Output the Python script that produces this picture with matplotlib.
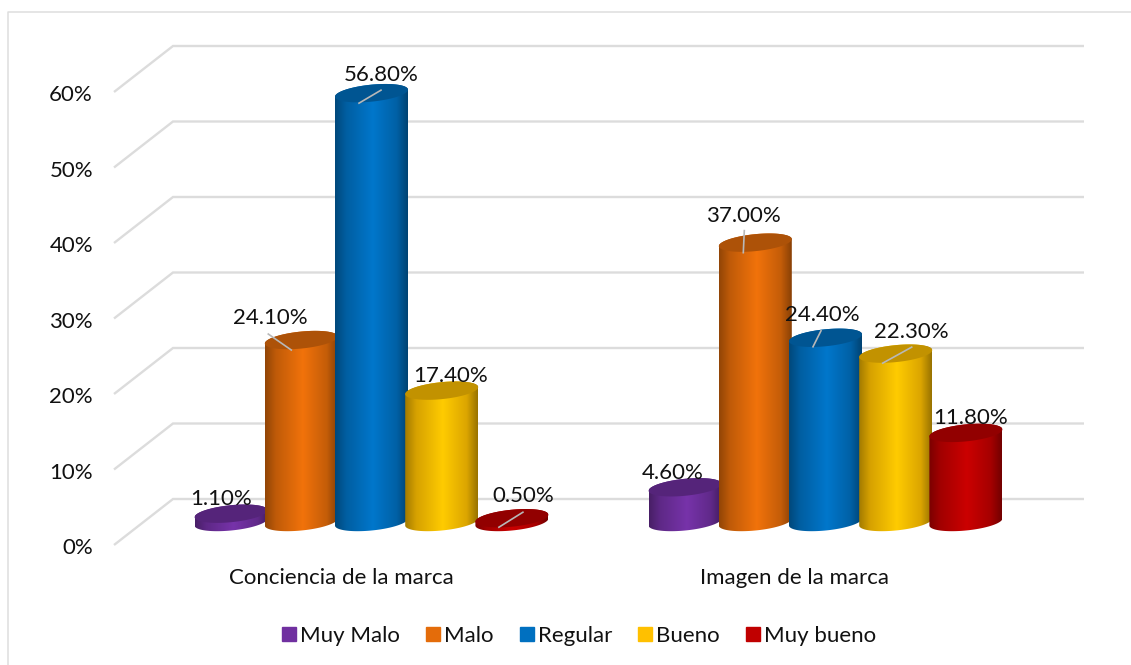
import numpy as np
import matplotlib
matplotlib.use('Agg')
import matplotlib.pyplot as plt
from matplotlib.colors import LinearSegmentedColormap, to_rgb
from matplotlib.patches import Patch, Polygon

plt.rcParams['font.family'] = ['Lato', 'DejaVu Sans']

categories = ['Conciencia de la marca', 'Imagen de la marca']
series = ['Muy Malo', 'Malo', 'Regular', 'Bueno', 'Muy bueno']
colors = ['#7030A0', '#E46C0A', '#0070C0', '#FFC000', '#C00000']
muy_malo = [1.1, 4.6]
malo = [24.1, 37.0]
regular = [56.8, 24.4]
bueno = [17.4, 22.3]
muy_bueno = [0.5, 11.8]
yticks = [0, 10, 20, 30, 40, 50, 60]

# pixels per unit on each axis, the figure is 1131x665
PX_X = 454.0
PX_Y = 7.55
X0 = 371.5
Y0 = 522.0
DEPTH = 23.0 / PX_Y     # front and back wall offset from the bar plane
PITCH = 70.2 / PX_X
WIDTH = 73.0 / PX_X
RY = 8.5 / PX_Y
TILT = 3.5 / PX_Y
FS = 16


def xu(px):
    return (px - X0) / PX_X


def yu(px):
    return (Y0 - px) / PX_Y


def shade(col, f):
    return tuple(min(c * f, 1.0) for c in to_rgb(col))


def ellipse(cx, v, n=80):
    t = np.linspace(0, 2 * np.pi, n)
    return cx + WIDTH / 2 * np.cos(t), v + RY * np.sin(t) + TILT * np.cos(t)


def cylinder(cx, v, col, z):
    t = np.linspace(0, np.pi, 60)
    top_x = cx + WIDTH / 2 * np.cos(t)
    top_y = v + RY * np.sin(t) + TILT * np.cos(t)
    bot_x = cx + WIDTH / 2 * np.cos(t + np.pi)
    bot_y = RY * np.sin(t + np.pi) + TILT * np.cos(t + np.pi)
    body = Polygon(np.c_[np.r_[top_x, bot_x], np.r_[top_y, bot_y]],
                   closed=True, transform=ax.transData, fc='none', ec='none')
    ax.add_patch(body)
    cmap = LinearSegmentedColormap.from_list('c', [
        (0.0, shade(col, 0.64)), (0.15, shade(col, 0.84)), (0.52, shade(col, 1.06)),
        (0.85, shade(col, 0.86)), (1.0, shade(col, 0.6))])
    grad = np.linspace(0, 1, 128).reshape(1, -1)
    im = ax.imshow(grad, cmap=cmap, vmin=0, vmax=1, aspect='auto', zorder=z,
                   extent=[cx - WIDTH / 2, cx + WIDTH / 2, -RY - TILT, v + RY + TILT])
    im.set_clip_path(body)
    ex, ey = ellipse(cx, v)
    ax.fill(ex, ey, color=shade(col, 0.76), lw=0, zorder=z + 0.1)


fig = plt.figure(figsize=(11.31, 6.65), dpi=100)
ax = fig.add_axes([0, 0, 1, 1])

# walls of the 3d box, light grey
grid = '#dcdcdc'
for t in yticks:
    ax.plot([xu(114), xu(173), xu(1084)], [t - DEPTH, t + DEPTH, t + DEPTH],
            color=grid, lw=1.7, zorder=1, solid_joinstyle='miter', solid_capstyle='butt')
    ax.text(xu(93), t - DEPTH - 0.45, '%d%%' % t, ha='right', va='center',
            fontsize=FS, color='#111111')

values = [muy_malo, malo, regular, bueno, muy_bueno]

# label offset from the top of each bar, in pixels
label_off = [[(-10, 15), (-12, 14.5)], [(-31, 22.5), (-12, 27)], [(10, 18.5), (-3, 22.5)],
             [(9, 15), (16, 22)], [(11, 22.5), (5, 14.5)]]
# grey leader lines, only where the label sits away from the bar
leaders = {(1, 0): (-33, 6, -10, -10), (2, 0): (-12.5, -10, 9.5, 3), (4, 0): (-13, -9, 11, 6),
           (1, 1): (-12, -10, -11, 12), (2, 1): (-12.5, -9, -4.5, 7), (3, 1): (-13, -9.5, 16, 6.5)}

for g in range(len(categories)):
    for s in range(len(series)):
        cx = g + (s - 2) * PITCH
        v = values[s][g]
        z = 3 + g * 10 + s
        cylinder(cx, v, colors[s], z)
        if (s, g) in leaders:
            x0, y0, x1, y1 = leaders[(s, g)]
            ax.plot([cx + x0 / PX_X, cx + x1 / PX_X], [v + y0 / PX_Y, v + y1 / PX_Y],
                    color='#b8b8b8', lw=1.2, zorder=z + 0.2)
        dx, dy = label_off[s][g]
        ax.annotate('%.2f%%' % v, xy=(cx, v), xytext=(dx, dy), textcoords='offset pixels',
                    ha='center', va='center', fontsize=FS, color='#111111', zorder=40)

for g, name in enumerate(categories):
    ax.text(g + xu(341) - xu(371.5), yu(578), name, ha='center', va='center',
            fontsize=FS, color='#111111')

handles = [Patch(color=c, label=n) for c, n in zip(colors, series)]
ax.legend(handles=handles, loc='center', bbox_to_anchor=(579 / 1131, 1 - 636 / 665), ncol=5,
          frameon=False, fontsize=FS, handlelength=0.63, handleheight=0.63,
          handletextpad=0.17, columnspacing=1.18, labelcolor='#111111')

# outer chart frame, open on the right and bottom
ax.plot([xu(7.5), xu(7.5), xu(1131)], [yu(665), yu(11.5), yu(11.5)], color='#dedede', lw=1.1, zorder=1)

ax.set_xlim(xu(0), xu(1131))
ax.set_ylim(yu(665), yu(0))
ax.axis('off')
fig.savefig('out.png', dpi=100)
